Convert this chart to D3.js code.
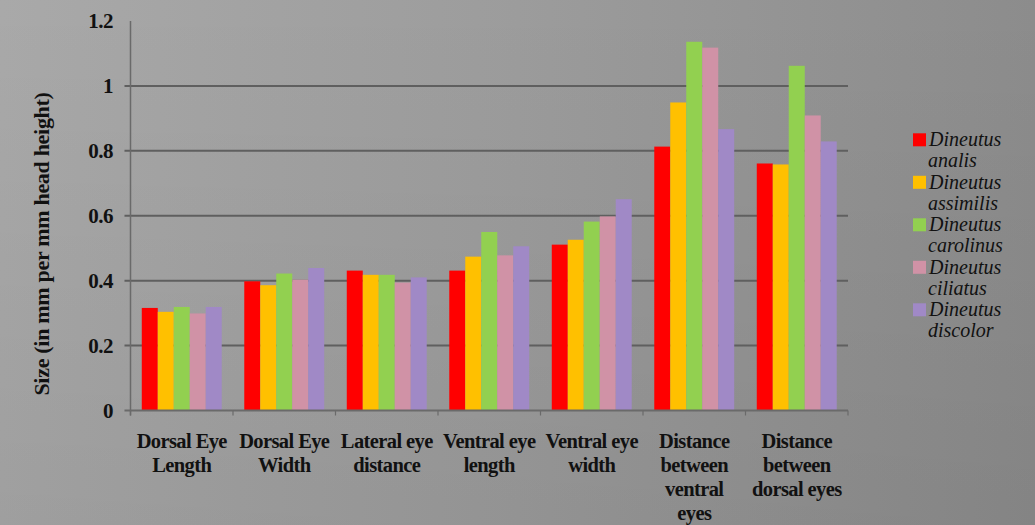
<!DOCTYPE html>
<html><head><meta charset="utf-8">
<script src="https://cdn.jsdelivr.net/npm/d3@7"></script>
<style>html,body{margin:0;padding:0;background:#999;}svg{display:block;}</style>
</head><body>
<script>
const categories = [
  ["Dorsal Eye","Length"],
  ["Dorsal Eye","Width"],
  ["Lateral eye","distance"],
  ["Ventral eye","length"],
  ["Ventral eye","width"],
  ["Distance","between","ventral","eyes"],
  ["Distance","between","dorsal eyes"]
];
const seriesNames = [
  ["Dineutus","analis"],
  ["Dineutus","assimilis"],
  ["Dineutus","carolinus"],
  ["Dineutus","ciliatus"],
  ["Dineutus","discolor"]
];
const analis    = [0.316, 0.398, 0.431, 0.431, 0.511, 0.813, 0.761];
const assimilis = [0.304, 0.386, 0.418, 0.474, 0.526, 0.949, 0.758];
const carolinus = [0.319, 0.422, 0.418, 0.550, 0.582, 1.136, 1.062];
const ciliatus  = [0.299, 0.403, 0.394, 0.478, 0.598, 1.118, 0.909];
const discolor  = [0.319, 0.439, 0.410, 0.506, 0.651, 0.867, 0.829];
const yTicks = [0, 0.2, 0.4, 0.6, 0.8, 1, 1.2];
const yLabel = "Size (in mm per mm head height)";
const colors = ["#ff0000", "#ffc000", "#92d050", "#d092a6", "#a089c6"];

(function () {
const series = [analis, assimilis, carolinus, ciliatus, discolor];
const W = 1035, H = 525;
const svg = d3.select("body").append("svg").attr("width", W).attr("height", H);
const defs = svg.append("defs");
const g1 = defs.append("linearGradient").attr("id","bg").attr("x1","0").attr("x2","1").attr("y1","0").attr("y2","0");
g1.append("stop").attr("offset","0").attr("stop-color","#a9a9a9");
g1.append("stop").attr("offset","0.5").attr("stop-color","#9c9c9c");
g1.append("stop").attr("offset","1").attr("stop-color","#8c8c8c");
const g2 = defs.append("linearGradient").attr("id","bg2").attr("x1","0").attr("x2","0").attr("y1","0").attr("y2","1");
g2.append("stop").attr("offset","0").attr("stop-color","#000").attr("stop-opacity","0");
g2.append("stop").attr("offset","1").attr("stop-color","#000").attr("stop-opacity","0.06");
svg.append("rect").attr("width",W).attr("height",H).attr("fill","url(#bg)");
svg.append("rect").attr("width",W).attr("height",H).attr("fill","url(#bg2)");

const pL = 130.5, pR = 848, pT = 21, pB = 410.5;
const x0 = d3.scaleBand().domain(d3.range(categories.length)).range([pL, pR]).paddingInner(0.22).paddingOuter(0.11);
const x1 = d3.scaleBand().domain(d3.range(series.length)).range([0, x0.bandwidth()]);
const y = d3.scaleLinear().domain([0, 1.2]).range([pB, pT]);

// gridlines (with small outer ticks)
svg.append("g").selectAll("line").data(yTicks.filter(t => t > 0 && t < 1.2)).join("line")
  .attr("x1", pL - 6).attr("x2", pR).attr("y1", d => y(d)).attr("y2", d => y(d))
  .attr("stroke", "#5f5f5f").attr("stroke-width", 2);

// bars
series.forEach((s, si) => {
  svg.append("g").selectAll("rect").data(s).join("rect")
    .attr("x", (d, i) => x0(i) + x1(si))
    .attr("width", x1.bandwidth())
    .attr("y", d => y(d))
    .attr("height", d => y(0) - y(d))
    .attr("fill", colors[si]);
});

// axes
svg.append("line").attr("x1", pL).attr("x2", pL).attr("y1", pT).attr("y2", pB + 5)
  .attr("stroke", "#6a6a6a").attr("stroke-width", 1.5);
svg.append("line").attr("x1", pL - 6).attr("x2", pR).attr("y1", pB).attr("y2", pB)
  .attr("stroke", "#6a6a6a").attr("stroke-width", 1.8);
const step = x0.step();
svg.append("g").selectAll("line").data(d3.range(categories.length + 1)).join("line")
  .attr("x1", i => pL + i * step).attr("x2", i => pL + i * step)
  .attr("y1", pB).attr("y2", pB + 5).attr("stroke", "#6a6a6a").attr("stroke-width", 1.2);

const serif = "'Liberation Serif','Times New Roman',serif";
// y tick labels
svg.append("g").selectAll("text").data(yTicks).join("text")
  .attr("x", 113).attr("y", d => y(d)).attr("dy", "0.34em")
  .attr("text-anchor", "end").attr("font-family", serif).attr("font-weight", "bold")
  .attr("font-size", 21).attr("letter-spacing", "-0.5").attr("fill", "#111").text(d => d3.format("")(d));

// y axis label
svg.append("text").attr("transform", "translate(49,244) rotate(-90)")
  .attr("text-anchor", "middle").attr("font-family", serif).attr("font-weight", "bold")
  .attr("font-size", 22).attr("letter-spacing", "-0.3").attr("fill", "#111").text(yLabel);

// category labels
categories.forEach((lines, i) => {
  const t = svg.append("text").attr("text-anchor", "middle").attr("font-family", serif)
    .attr("font-weight", "bold").attr("font-size", 20.5).attr("fill", "#111")
    .attr("letter-spacing", "-0.6");
  lines.forEach((ln, j) => {
    t.append("tspan").attr("x", x0(i) + x0.bandwidth() / 2).attr("y", 448 + j * 24).text(ln);
  });
});

// legend
const lg = svg.append("g");
seriesNames.forEach((nm, i) => {
  const yy = 133.3 + i * 42.5;
  lg.append("rect").attr("x", 913).attr("y", yy).attr("width", 13).attr("height", 13).attr("fill", colors[i]);
  const t = lg.append("text").attr("font-family", serif).attr("font-style", "italic")
    .attr("font-size", 20).attr("fill", "#111");
  t.append("tspan").attr("x", 929).attr("y", yy + 13).text(nm[0]);
  t.append("tspan").attr("x", 928).attr("y", yy + 34).text(nm[1]);
});
})();
</script>
</body></html>
